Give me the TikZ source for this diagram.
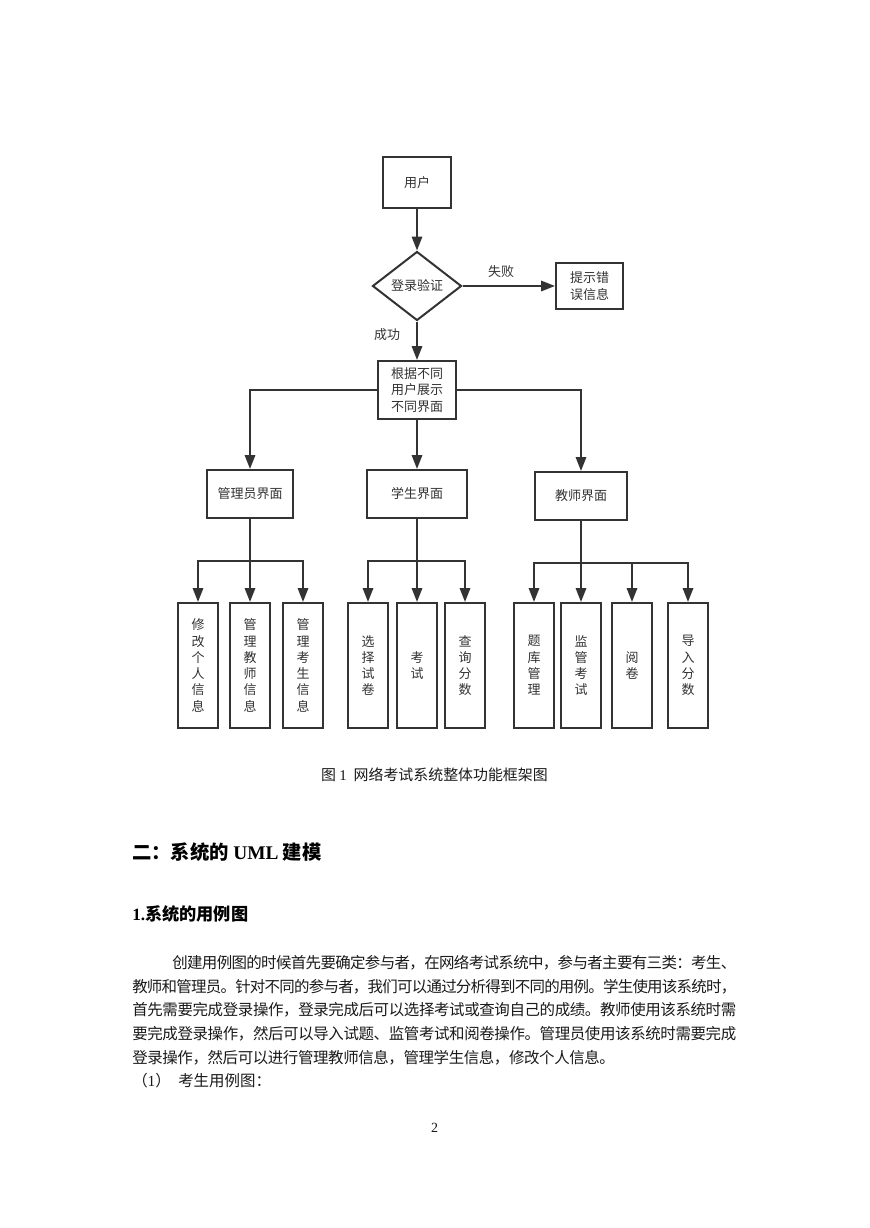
\documentclass[tikz,border=0pt]{standalone}
\usepackage{fontspec}
\setmainfont{Liberation Serif}
\newfontfamily\cjk{Noto Sans CJK SC}
\usetikzlibrary{arrows.meta,shapes.geometric}
\definecolor{ln}{HTML}{333333}
\definecolor{tx}{HTML}{333333}
\definecolor{bd}{HTML}{1A1A1A}
% justified line: glue between every character
\def\jline#1#2{\hbox to #1{\jlx#2\relax}}
\def\jlx#1{#1\futurelet\jnext\jly}
\def\jly{\ifx\jnext\relax\expandafter\jlend\else\hskip 0pt plus 1fil minus 1fil\expandafter\jlx\fi}
\def\jlend\relax{}
\tikzset{
  fbox/.style={draw=ln, line width=1.5pt, fill=white, inner sep=0pt,
    font=\cjk\fontsize{9.75pt}{12.2pt}\selectfont, text=tx, align=center},
  vbox/.style={fbox, minimum width=40*0.75pt, minimum height=125*0.75pt},
  conn/.style={draw=ln, line width=1.5pt},
  arr/.style={conn, -{Triangle[length=10.5pt,width=7.8pt]}},
  lbl/.style={font=\cjk\fontsize{9.75pt}{12.2pt}\selectfont, text=tx, inner sep=0pt},
  body/.style={font=\cjk\fontsize{11.6pt}{17.7pt}\selectfont, text=bd, inner sep=0pt, anchor=west},
}
\begin{document}
\begin{tikzpicture}[x=0.75pt,y=-0.75pt]
\useasboundingbox (0,0) rectangle (869,1228);
\fill[white] (0,0) rectangle (869,1228);

% ---- flowchart nodes
\node[fbox, minimum width=68*0.75pt, minimum height=51*0.75pt] (user) at (417,182.5) {用户};
\node[fbox, diamond, aspect=1.29, minimum width=89*0.75pt, minimum height=69*0.75pt] (login) at (417,286) {登录验证};
\node[fbox, minimum width=67*0.75pt, minimum height=46*0.75pt] (tip) at (589.5,286) {提示错\\误信息};
\node[fbox, minimum width=78*0.75pt, minimum height=58*0.75pt] (show) at (417,390) {根据不同\\用户展示\\不同界面};
\node[fbox, minimum width=86*0.75pt, minimum height=48*0.75pt] (admin) at (250,494) {管理员界面};
\node[fbox, minimum width=100*0.75pt, minimum height=48*0.75pt] (stud) at (417,494) {学生界面};
\node[fbox, minimum width=92*0.75pt, minimum height=48*0.75pt] (teach) at (581,496) {教师界面};

\node[vbox] (a1) at (198,665.5) {修\\改\\个\\人\\信\\息};
\node[vbox] (a2) at (250,665.5) {管\\理\\教\\师\\信\\息};
\node[vbox] (a3) at (303,665.5) {管\\理\\考\\生\\信\\息};
\node[vbox] (s1) at (368,665.5) {选\\择\\试\\卷};
\node[vbox] (s2) at (417,665.5) {考\\试};
\node[vbox] (s3) at (465,665.5) {查\\询\\分\\数};
\node[vbox] (t1) at (534,665.5) {题\\库\\管\\理};
\node[vbox] (t2) at (581,665.5) {监\\管\\考\\试};
\node[vbox] (t3) at (632,665.5) {阅\\卷};
\node[vbox] (t4) at (688,665.5) {导\\入\\分\\数};

\node[lbl] (fail) at (501,272) {失败};
\node[lbl] (succ) at (387,335) {成功};

% ---- connectors
\draw[arr] (user.south) -- (login.north);
\draw[arr] (login.east) -- (tip.west);
\draw[arr] (login.south) -- (show.north);
\draw[arr] (show.west) -| (admin.north);
\draw[arr] (show.south) -- (stud.north);
\draw[arr] (show.east) -| (teach.north);

\coordinate (ja) at (250,561);
\draw[conn] (admin.south) -- (ja);
\draw[arr] (ja) -| (a1.north);
\draw[arr] (ja) -- (a2.north);
\draw[arr] (ja) -| (a3.north);

\coordinate (js) at (417,561);
\draw[conn] (stud.south) -- (js);
\draw[arr] (js) -| (s1.north);
\draw[arr] (js) -- (s2.north);
\draw[arr] (js) -| (s3.north);

\coordinate (jt) at (581,563);
\draw[conn] (teach.south) -- (jt);
\draw[arr] (jt) -| (t1.north);
\draw[arr] (jt) -- (t2.north);
\draw[arr] (jt) -| (t3.north);
\draw[arr] (jt) -| (t4.north);

% ---- page text
\node[font=\cjk\fontsize{11.2pt}{13pt}\selectfont, text=bd, inner sep=0pt] (cap) at (434.5,775)
  {图\ {\rmfamily 1}\ \ 网络考试系统整体功能框架图};
\node[anchor=west, font=\cjk\bfseries\fontsize{14.5pt}{17pt}\selectfont, text=black, inner sep=0pt] (h1) at (132,852)
  {二：系统的 {\rmfamily\bfseries UML} 建模};
\node[anchor=west, font=\cjk\bfseries\fontsize{12.9pt}{15pt}\selectfont, text=black, inner sep=0pt] (h2) at (132,914)
  {{\rmfamily\bfseries 1.}系统的用例图};

\node[body] (p1) at (172,963) {\jline{423pt}{创建用例图的时候首先要确定参与者，在网络考试系统中，参与者主要有三类：考生、}};
\node[body] (p2) at (132,986.6) {\jline{453pt}{教师和管理员。针对不同的参与者，我们可以通过分析得到不同的用例。学生使用该系统时，}};
\node[body] (p3) at (132,1010.2) {\jline{453pt}{首先需要完成登录操作，登录完成后可以选择考试或查询自己的成绩。教师使用该系统时需}};
\node[body] (p4) at (132,1033.8) {\jline{453pt}{要完成登录操作，然后可以导入试题、监管考试和阅卷操作。管理员使用该系统时需要完成}};
\node[body] (p5) at (132,1057.4) {\jline{362pt}{登录操作，然后可以进行管理教师信息，管理学生信息，修改个人信息。}};
\node[body] (p6a) at (132,1081) {（{\rmfamily 1}）};
\node[body] (p6b) at (178,1081) {考生用例图：};

\node[font=\rmfamily\fontsize{10.5pt}{12pt}\selectfont, text=bd, inner sep=0pt] (pg) at (434.5,1128) {2};
\end{tikzpicture}
\end{document}
